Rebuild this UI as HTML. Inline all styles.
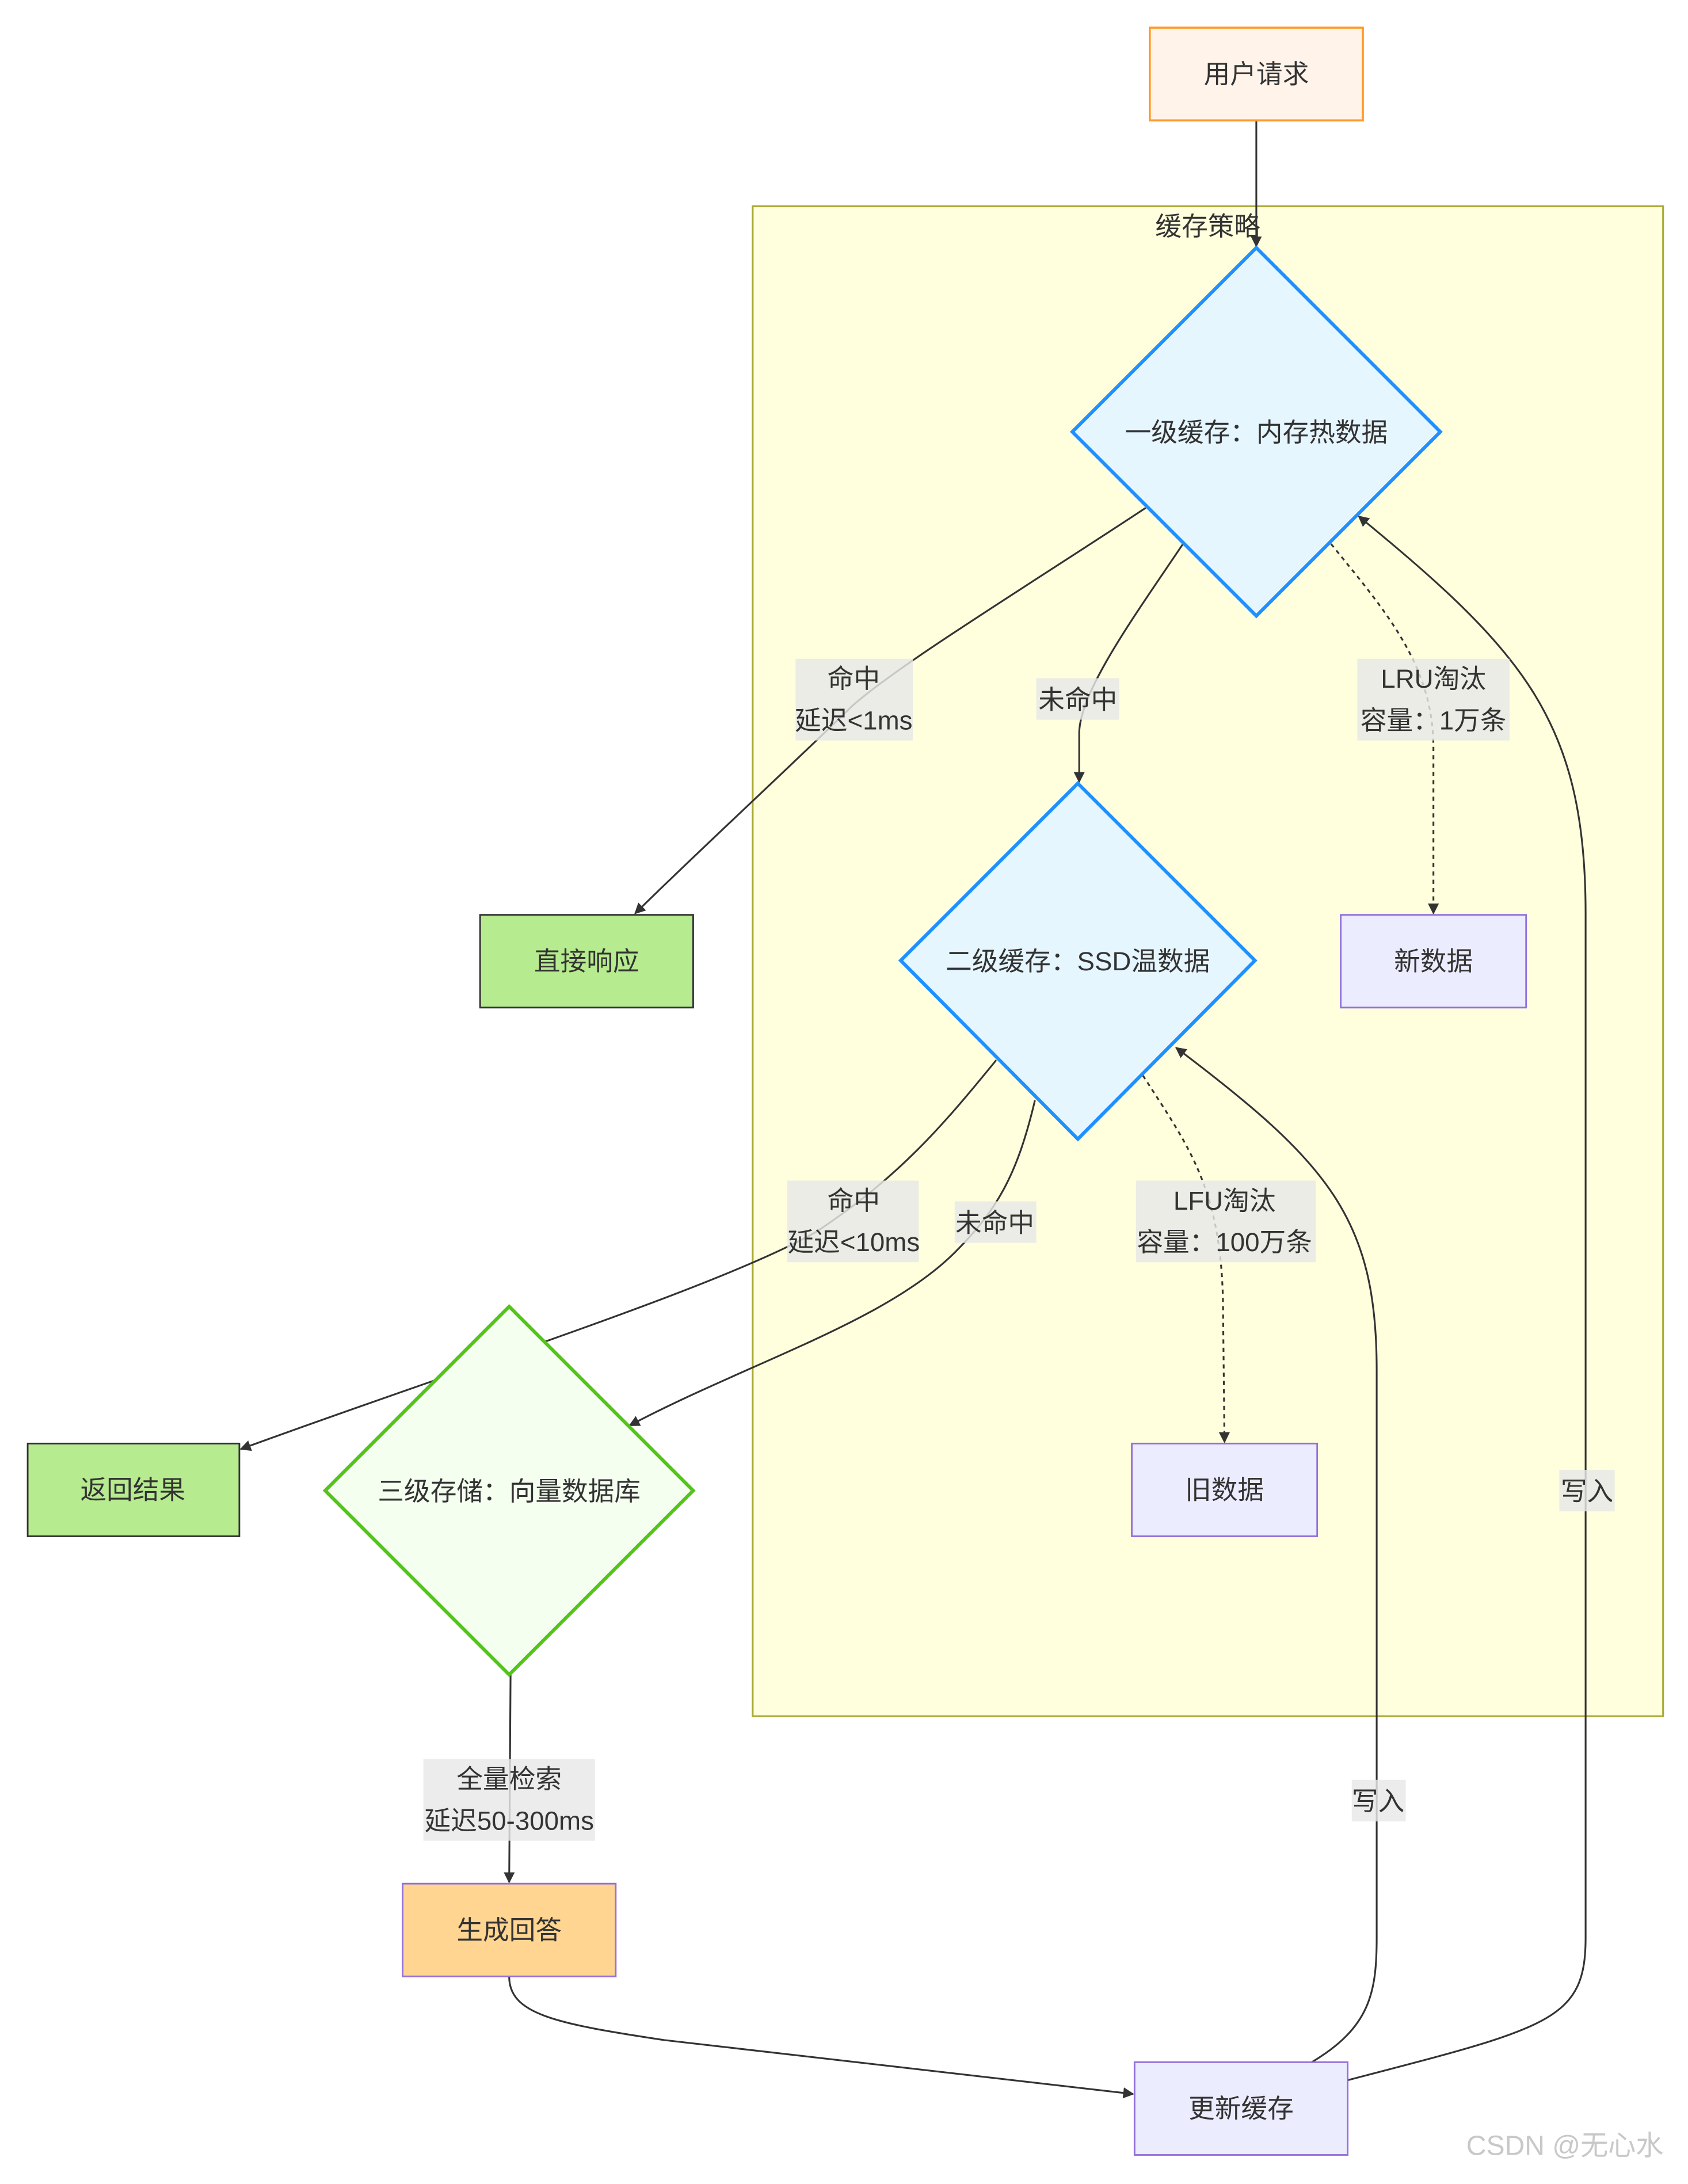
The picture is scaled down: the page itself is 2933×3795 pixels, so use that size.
<!DOCTYPE html>
<html><head><meta charset="utf-8"><style>
html,body{margin:0;padding:0;background:#fff;}
svg{display:block;}
text{font-family:"Liberation Sans","Noto Sans CJK SC",sans-serif;fill:#333;}
</style></head><body>
<svg width="2933" height="3795" viewBox="0 0 1220 1578" preserveAspectRatio="none" xmlns="http://www.w3.org/2000/svg">
<defs>
<marker id="a" viewBox="0 0 10 10" refX="9" refY="5" markerWidth="8" markerHeight="8" markerUnits="userSpaceOnUse" orient="auto"><path d="M0,0 L10,5 L0,10 z" fill="#333"/></marker>
</defs>
<rect x="544" y="149" width="658" height="1091" fill="#ffffde" stroke="#aaaa33" stroke-width="1.3"/>
<text x="873" y="170" font-size="19" text-anchor="middle">缓存策略</text>

<g fill="none" stroke="#333" stroke-width="1.3">
<path d="M908,87 L908,178" marker-end="url(#a)"/>
<path d="M828,367 C740,425 650,480 616,510 C570,555 510,610 459,660" marker-end="url(#a)"/>
<path d="M855,393 C820,445 780,500 780,530 L780,565" marker-end="url(#a)"/>
<path d="M962,393 C1000,440 1036,480 1036,540 L1036,660" stroke-dasharray="3,3" marker-end="url(#a)"/>
<path d="M720,766 C680,815 650,850 590,890 C520,930 330,990 174,1047" marker-end="url(#a)"/>
<path d="M748,795 C735,850 720,875 690,905 C640,955 540,985 455,1030" marker-end="url(#a)"/>
<path d="M826,777 C860,830 884,860 884,950 L885,1042" stroke-dasharray="3,3" marker-end="url(#a)"/>
<path d="M369,1210 L368,1360" marker-end="url(#a)"/>
<path d="M368,1428 C368,1455 400,1462 480,1474 L819,1513" marker-end="url(#a)"/>
<path d="M948,1490 C990,1465 995,1440 995,1400 L995,990 C995,880 960,840 850,757" marker-end="url(#a)"/>
<path d="M974,1503 C1120,1465 1146,1460 1146,1400 L1146,660 C1146,520 1100,470 982,373" marker-end="url(#a)"/>
</g>

<rect x="831" y="20" width="154" height="67" fill="#fff3ea" stroke="#ff9a2a" stroke-width="1.5"/>
<text x="908" y="60" font-size="19" text-anchor="middle">用户请求</text>

<polygon points="908,179 1041,312 908,445 775,312" fill="#e6f6ff" stroke="#1e90ff" stroke-width="2.5"/>
<text x="908" y="319" font-size="19" text-anchor="middle">一级缓存：内存热数据</text>
<polygon points="779,566 907,694 779,823 651,694" fill="#e6f6ff" stroke="#1e90ff" stroke-width="2.5"/>
<text x="779" y="701" font-size="19" text-anchor="middle">二级缓存：SSD温数据</text>
<polygon points="368,944 501,1077 368,1210 235,1077" fill="#f5fff0" stroke="#52c41a" stroke-width="2.5"/>
<text x="368" y="1084" font-size="19" text-anchor="middle">三级存储：向量数据库</text>

<rect x="347" y="661" width="154" height="67" fill="#b7eb8f" stroke="#333" stroke-width="1.2"/>
<text x="424" y="701" font-size="19" text-anchor="middle">直接响应</text>
<rect x="969" y="661" width="134" height="67" fill="#ececff" stroke="#9370db" stroke-width="1.2"/>
<text x="1036" y="701" font-size="19" text-anchor="middle">新数据</text>
<rect x="20" y="1043" width="153" height="67" fill="#b7eb8f" stroke="#333" stroke-width="1.2"/>
<text x="96" y="1083" font-size="19" text-anchor="middle">返回结果</text>
<rect x="818" y="1043" width="134" height="67" fill="#ececff" stroke="#9370db" stroke-width="1.2"/>
<text x="885" y="1083" font-size="19" text-anchor="middle">旧数据</text>
<rect x="291" y="1361" width="154" height="67" fill="#ffd591" stroke="#9370db" stroke-width="1.2"/>
<text x="368" y="1401" font-size="19" text-anchor="middle">生成回答</text>
<rect x="820" y="1490" width="154" height="67" fill="#ececff" stroke="#9370db" stroke-width="1.2"/>
<text x="897" y="1530" font-size="19" text-anchor="middle">更新缓存</text>

<g fill="rgba(232,232,232,0.82)">
<rect x="575" y="476" width="85" height="59"/>
<rect x="749" y="490" width="60" height="30"/>
<rect x="981" y="476" width="110" height="59"/>
<rect x="569" y="853" width="95" height="59"/>
<rect x="690" y="868" width="59" height="30"/>
<rect x="821" y="853" width="130" height="59"/>
<rect x="306" y="1271" width="124" height="59"/>
<rect x="977" y="1286" width="39" height="30"/>
<rect x="1127" y="1062" width="40" height="30"/>
</g>
<g font-size="19" text-anchor="middle">
<text x="617" y="497">命中</text><text x="617" y="527">延迟&lt;1ms</text>
<text x="779" y="512">未命中</text>
<text x="1036" y="497">LRU淘汰</text><text x="1036" y="527">容量：1万条</text>
<text x="617" y="874">命中</text><text x="617" y="904">延迟&lt;10ms</text>
<text x="719" y="890">未命中</text>
<text x="885" y="874">LFU淘汰</text><text x="885" y="904">容量：100万条</text>
<text x="368" y="1292">全量检索</text><text x="368" y="1322">延迟50-300ms</text>
<text x="996" y="1308">写入</text>
<text x="1147" y="1084">写入</text>
</g>
<text x="1131" y="1557" font-size="20" text-anchor="middle" style="fill:#c8c8c8">CSDN @无心水</text>
</svg>
</body></html>
